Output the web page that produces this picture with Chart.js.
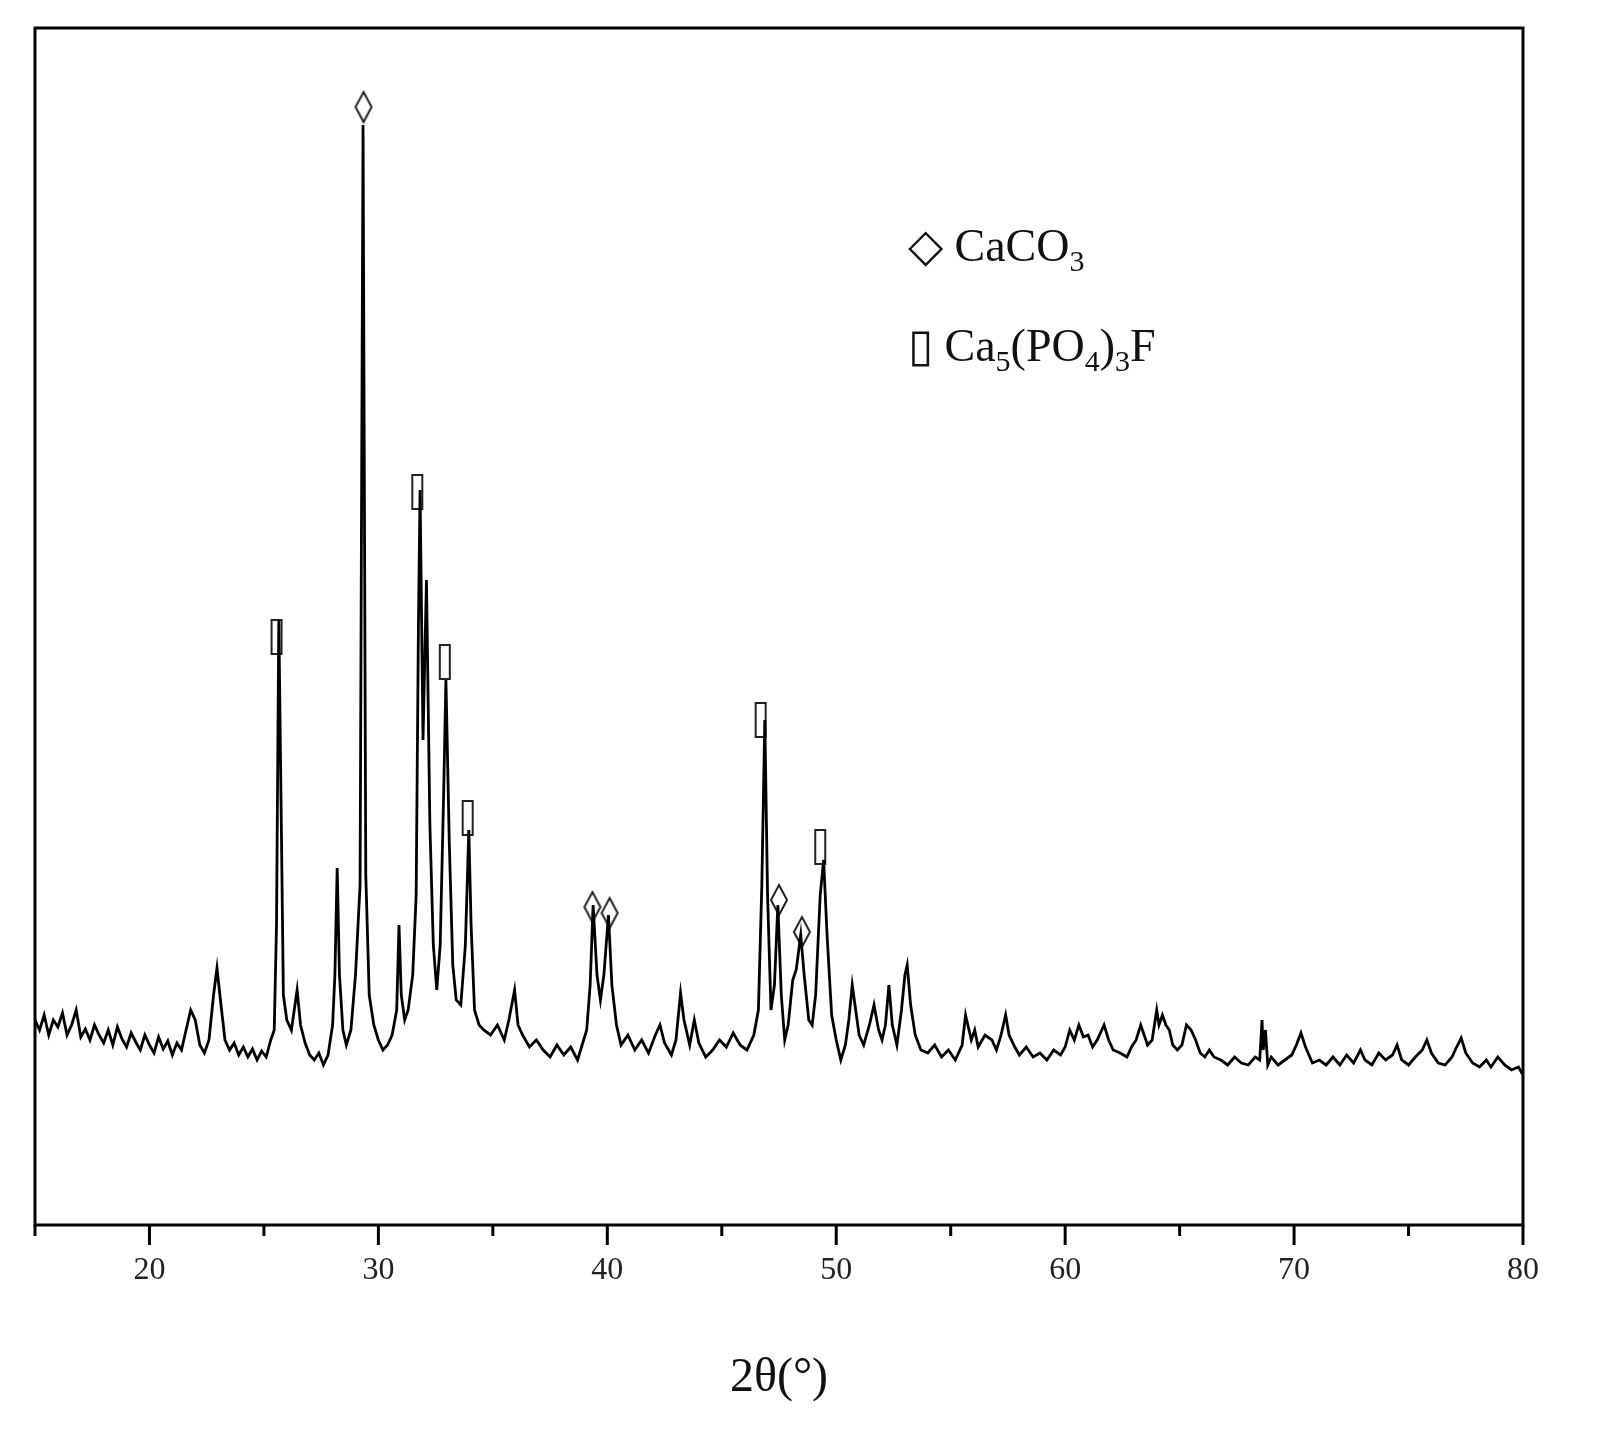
<!DOCTYPE html>
<html>
<head>
<meta charset="utf-8">
<script src="https://cdn.jsdelivr.net/npm/chart.js@4"></script>
<style>
  body { margin: 0; background: #fff; }
  #wrap { position: relative; width: 1604px; height: 1453px; }
  #legend { position: absolute; left: 908px; top: 196px; font-family: 'Liberation Serif', serif; font-size: 46px; color: #111; line-height: 100px; }
  #legend sub { font-size: 30px; line-height: 0; }
</style>
</head>
<body>
<div id="wrap">
  <canvas id="chart_root" width="1604" height="1453"></canvas>
  <div id="legend">
    <div>◇ CaCO<sub>3</sub></div>
    <div>▯ Ca<sub>5</sub>(PO<sub>4</sub>)<sub>3</sub>F</div>
  </div>
</div>
<script>
const twoTheta = [15.0,15.2,15.4,15.6,15.8,16.0,16.2,16.4,16.6,16.8,17.0,17.2,17.4,17.6,17.8,18.0,18.2,18.4,18.6,18.8,19.0,19.2,19.4,19.6,19.8,20.0,20.2,20.4,20.6,20.8,21.0,21.2,21.4,21.6,21.8,22.0,22.2,22.4,22.6,22.8,22.95,23.1,23.3,23.5,23.7,23.9,24.1,24.3,24.5,24.7,24.9,25.1,25.3,25.45,25.55,25.65,25.75,25.85,26.0,26.2,26.45,26.6,26.8,27.0,27.2,27.4,27.6,27.8,28.0,28.1,28.2,28.3,28.45,28.6,28.8,29.0,29.1,29.2,29.33,29.45,29.6,29.8,30.0,30.2,30.4,30.6,30.8,30.9,31.0,31.15,31.3,31.5,31.65,31.75,31.82,31.95,32.1,32.25,32.4,32.55,32.7,32.85,32.95,33.1,33.25,33.4,33.6,33.8,33.95,34.05,34.2,34.4,34.6,34.9,35.2,35.5,35.7,35.95,36.1,36.3,36.6,36.9,37.2,37.5,37.8,38.1,38.4,38.7,38.9,39.1,39.25,39.38,39.55,39.7,39.85,40.05,40.2,40.4,40.6,40.9,41.2,41.5,41.8,42.1,42.3,42.5,42.8,43.0,43.2,43.35,43.6,43.8,44.0,44.3,44.6,44.9,45.2,45.5,45.8,46.1,46.4,46.6,46.75,46.88,47.0,47.15,47.3,47.45,47.6,47.75,47.9,48.1,48.25,48.45,48.6,48.8,48.95,49.1,49.3,49.45,49.6,49.8,50.0,50.2,50.4,50.55,50.7,50.85,51.0,51.2,51.45,51.65,51.85,52.0,52.15,52.3,52.45,52.65,52.85,53.0,53.1,53.25,53.45,53.7,54.0,54.3,54.6,54.9,55.2,55.5,55.65,55.75,55.9,56.05,56.2,56.5,56.8,57.0,57.2,57.4,57.55,57.8,58.0,58.3,58.6,58.9,59.2,59.5,59.8,60.0,60.2,60.4,60.6,60.8,61.0,61.2,61.4,61.7,61.9,62.1,62.4,62.7,62.9,63.1,63.3,63.45,63.6,63.8,64.0,64.1,64.25,64.4,64.55,64.7,64.9,65.1,65.3,65.5,65.7,65.9,66.1,66.3,66.5,66.8,67.1,67.4,67.7,68.0,68.3,68.5,68.6,68.65,68.75,68.85,69.0,69.3,69.6,69.9,70.1,70.3,70.5,70.8,71.1,71.4,71.7,72.0,72.3,72.6,72.9,73.1,73.4,73.7,74.0,74.3,74.5,74.7,75.0,75.3,75.6,75.8,76.0,76.3,76.6,76.9,77.1,77.3,77.5,77.8,78.1,78.4,78.6,78.9,79.2,79.5,79.8,80.0];
const intensity = [205,195,210,190,205,198,212,190,200,215,188,196,185,200,190,182,195,180,198,186,178,192,183,175,190,180,172,188,176,184,170,182,175,195,215,205,180,172,185,230,257,225,185,175,182,170,178,168,176,165,174,168,185,195,300,605,420,230,205,195,235,200,182,170,165,172,160,170,200,250,357,250,195,180,195,250,295,340,1100,350,230,200,185,175,180,190,215,300,230,205,215,250,330,600,735,485,645,400,280,235,280,430,545,380,260,225,220,280,395,300,215,200,195,190,200,185,205,235,200,190,178,185,175,168,180,170,178,165,180,195,240,320,250,225,250,310,240,200,180,190,175,185,172,190,200,182,170,185,232,205,180,205,182,168,175,185,178,192,180,175,190,215,340,505,330,215,240,320,230,185,200,245,255,290,250,205,200,230,330,365,290,210,185,165,180,205,240,215,190,180,200,220,195,185,200,240,200,180,215,250,260,220,190,175,172,180,168,175,165,180,210,200,185,195,178,190,185,175,190,210,190,178,170,178,168,172,165,175,170,178,195,185,200,188,190,178,185,200,185,175,172,168,178,185,200,190,180,185,215,200,210,200,195,180,175,180,200,195,185,172,168,175,168,165,160,168,162,160,168,165,205,175,195,160,168,160,165,170,180,192,178,162,165,160,168,160,170,162,175,165,160,172,165,170,180,165,160,168,175,185,172,162,160,168,178,187,172,162,158,165,158,168,160,155,158,150];

// peak markers
const calcitePeaks = [29.35, 39.35, 40.1, 47.5, 48.5];
const calciteMarks = [1118, 318, 312, 325, 293];
const apatitePeaks = [25.55, 31.7, 32.9, 33.9, 46.7, 49.3];
const apatiteMarks = [588, 733, 563, 407, 505, 378];

const xTicks = [20, 30, 40, 50, 60, 70, 80];

function makeMarker(kind) {
  const c = document.createElement('canvas');
  c.width = 24; c.height = 40;
  const g = c.getContext('2d');
  g.strokeStyle = '#222';
  g.lineWidth = 2;
  if (kind === 'diamond') {
    g.beginPath();
    g.moveTo(12, 5); g.lineTo(20, 20); g.lineTo(12, 35); g.lineTo(4, 20); g.closePath();
    g.stroke();
  } else {
    g.strokeRect(7, 3, 10, 34);
  }
  return c;
}

const frame = {
  id: 'frame',
  afterDraw(chart) {
    const { ctx, chartArea: a, scales } = chart;
    ctx.save();
    ctx.strokeStyle = '#000';
    ctx.lineWidth = 3;
    ctx.strokeRect(a.left, a.top, a.right - a.left, a.bottom - a.top);
    for (let v = 15; v <= 80; v += 5) {
      const px = scales.x.getPixelForValue(v);
      const len = v % 10 === 0 ? 20 : 11;
      ctx.beginPath();
      ctx.moveTo(px, a.bottom);
      ctx.lineTo(px, a.bottom + len);
      ctx.stroke();
    }
    ctx.restore();
  }
};

new Chart(document.getElementById('chart_root'), {
  type: 'scatter',
  data: {
    datasets: [
      {
        data: twoTheta.map((x, i) => ({ x, y: intensity[i] })),
        showLine: true,
        borderColor: '#000',
        borderWidth: 2.8,
        pointRadius: 0
      },
      {
        data: calcitePeaks.map((x, i) => ({ x, y: calciteMarks[i] })),
        pointStyle: makeMarker('diamond'),
        pointRadius: 10
      },
      {
        data: apatitePeaks.map((x, i) => ({ x, y: apatiteMarks[i] })),
        pointStyle: makeMarker('rect'),
        pointRadius: 10
      }
    ]
  },
  options: {
    responsive: false,
    animation: false,
    layout: { padding: { left: 35, top: 28, right: 81, bottom: 0 } },
    plugins: { legend: { display: false }, tooltip: { enabled: false } },
    scales: {
      x: {
        type: 'linear',
        min: 15,
        max: 80,
        afterBuildTicks: (s) => { s.ticks = xTicks.map((v) => ({ value: v })); },
        afterFit: (s) => { s.height = 228; },
        grid: { display: false, drawTicks: false },
        border: { display: false },
        ticks: { color: '#222', padding: 26, font: { family: 'Liberation Serif', size: 32 } },
        title: {
          display: true,
          text: '2θ(°)',
          color: '#111',
          font: { family: 'Liberation Serif', size: 48 },
          padding: { top: 0, bottom: 46 }
        }
      },
      y: {
        display: false,
        min: 0,
        max: 1197
      }
    }
  },
  plugins: [frame]
});
</script>
</body>
</html>
